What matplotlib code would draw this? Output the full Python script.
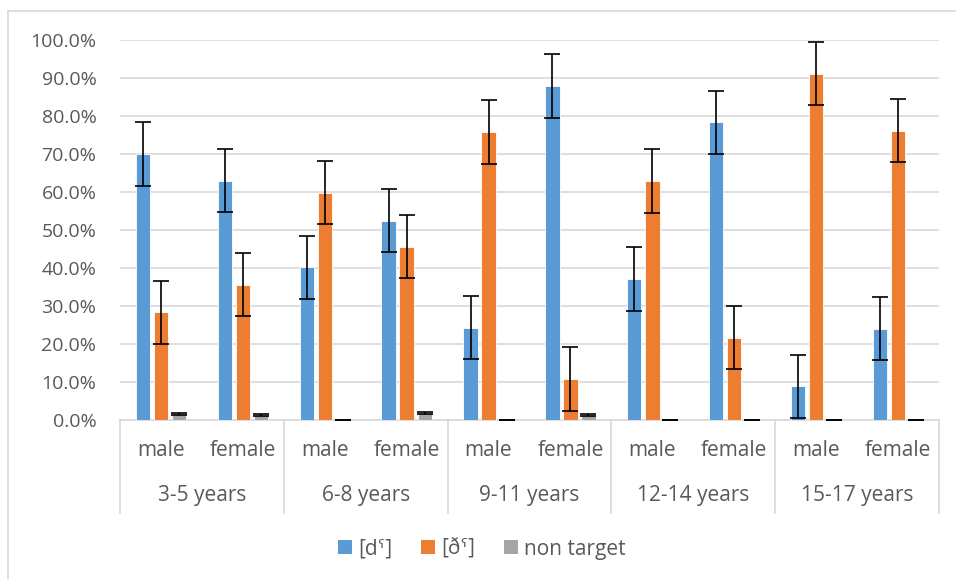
import matplotlib
matplotlib.use("Agg")
import matplotlib.pyplot as plt
from matplotlib.lines import Line2D
from matplotlib.patches import Patch
import numpy as np

plt.rcParams['font.family'] = ['Open Sans', 'DejaVu Sans']

genders = ["male", "female"] * 5
age_groups = ["3-5 years", "6-8 years", "9-11 years", "12-14 years", "15-17 years"]
series_names = ["[dˤ]", "[ðˤ]", "non target"]
d_vals = [70.0, 63.0, 40.2, 52.4, 24.3, 87.9, 37.1, 78.4, 8.9, 24.0]
dh_vals = [28.4, 35.6, 59.8, 45.6, 75.8, 10.8, 62.9, 21.6, 91.1, 76.1]
nt_vals = [1.6, 1.3, 0.0, 1.8, 0.0, 1.3, 0.0, 0.0, 0.0, 0.0]
d_err = [8.3] * 10
dh_err = [8.3] * 10
nt_err = [0.3, 0.3, 0.0, 0.3, 0.0, 0.3, 0.0, 0.0, 0.0, 0.0]
colors = ["#5B9BD5", "#ED7D31", "#A5A5A5"]

W, H = 956, 579
fig = plt.figure(figsize=(W / 100, H / 100), dpi=100)
x0, x1, y0, y1 = 120, 939, 420, 40
ax = fig.add_axes([x0 / W, 1 - y0 / H, (x1 - x0) / W, (y0 - y1) / H])

n = len(genders)
x = np.arange(n)
bw = 0.175
offs = [-0.22, 0.0, 0.22]
for vals, errs, col, off in zip([d_vals, dh_vals, nt_vals], [d_err, dh_err, nt_err], colors, offs):
    v = np.array(vals) / 100
    e = np.array(errs) / 100
    ax.bar(x + off, v, width=bw, color=col, edgecolor="white", linewidth=0.6, zorder=3)
    ax.errorbar(x + off, v, yerr=e, fmt="none", ecolor="black", elinewidth=1.2,
                capsize=5.5, capthick=1.2, zorder=4)

ax.set_xlim(-0.5, n - 0.5)
ax.set_ylim(0, 1.0)
ax.set_yticks(np.arange(0, 1.01, 0.1))
ax.set_yticklabels([f"{t*100:.1f}%" for t in np.arange(0, 1.01, 0.1)])
ax.tick_params(axis="y", length=0, pad=17, labelsize=14, labelcolor="#595959")
ax.set_xticks([])
ax.grid(axis="y", color="#D9D9D9", linewidth=1.2, zorder=0)
for s in ["top", "right", "left"]:
    ax.spines[s].set_visible(False)
ax.spines["bottom"].set_color("#D9D9D9")
ax.spines["bottom"].set_linewidth(1.2)

trans = ax.get_xaxis_transform()
# category separators
for b in np.arange(-0.5, n, 2):
    ax.add_line(Line2D([b, b], [0, -93 / (y0 - y1)], transform=trans, color="#D9D9D9",
                       linewidth=1.2, clip_on=False))
for i, g in enumerate(genders):
    ax.text(i, -31 / (y0 - y1), g, transform=trans, ha="center", va="center",
            fontsize=15, color="#595959")
for j, a in enumerate(age_groups):
    ax.text(2 * j + 0.5, -76 / (y0 - y1), a, transform=trans, ha="center", va="center",
            fontsize=15, color="#595959")

handles = [Patch(facecolor=c, edgecolor="none") for c in colors]
fig.legend(handles, series_names, loc="center", bbox_to_anchor=(482 / W, 1 - 549 / H),
           ncol=3, frameon=False, fontsize=15, handlelength=0.65, handleheight=0.65,
           handletextpad=0.3, columnspacing=1.4, labelcolor="#595959")

# outer chart border (partial)
fig.add_artist(Line2D([8 / W, 8 / W], [0, 1 - 11 / H], color="#D9D9D9", linewidth=1.2))
fig.add_artist(Line2D([8 / W, 1], [1 - 11 / H, 1 - 11 / H], color="#D9D9D9", linewidth=1.2))

fig.savefig("out.png", dpi=100)
